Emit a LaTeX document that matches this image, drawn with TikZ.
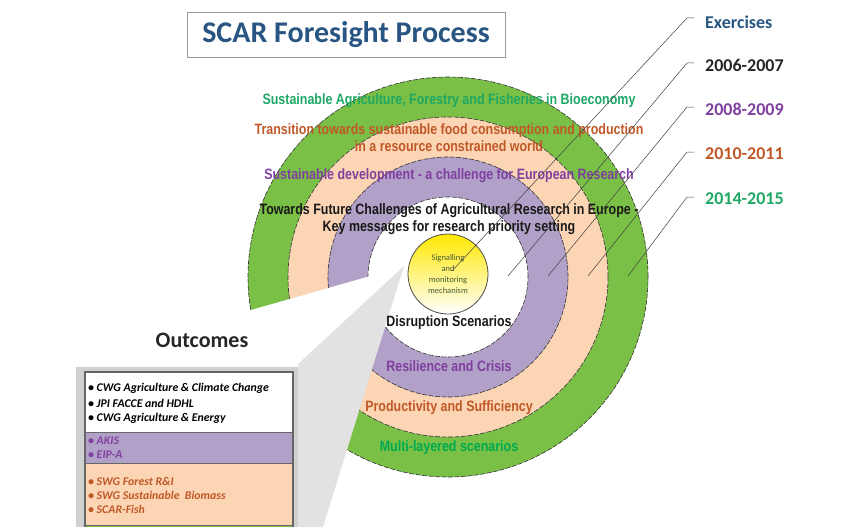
\documentclass[tikz,border=0pt]{standalone}
\usepackage{fontspec}
\setmainfont{Carlito}
\newfontfamily\narrowfont[FakeStretch=0.83]{Liberation Sans}

\definecolor{ringgreen}{RGB}{122,192,70}
\definecolor{ringpeach}{RGB}{252,213,180}
\definecolor{ringpurple}{RGB}{177,160,199}
\definecolor{txtgreen}{RGB}{30,168,100}
\definecolor{txtbright}{RGB}{0,170,80}
\definecolor{txtorange}{RGB}{192,88,40}
\definecolor{txtpurple}{RGB}{128,64,160}
\definecolor{titleblue}{RGB}{40,85,130}
\definecolor{sigyellow}{RGB}{255,232,0}
\definecolor{sigtext}{RGB}{70,90,50}
\definecolor{wedgegray}{RGB}{226,226,226}
\definecolor{framegray}{RGB}{208,208,208}

\tikzset{
  ring/.style={circle, draw=black!80, dash pattern=on 5pt off 1.5pt, line width=0.6pt, inner sep=0pt},
  ringlabel/.style={align=center, font=\narrowfont\bfseries\fontsize{15}{17}\selectfont},
  yearlabel/.style={anchor=base west, inner sep=0pt, font=\bfseries\fontsize{18}{20}\selectfont},
  outcome/.style={anchor=west, inner sep=0pt, font=\bfseries\itshape\fontsize{11.8}{13}\selectfont},
  leader/.style={draw=black!75, line width=0.5pt}
}

\begin{document}
\begin{tikzpicture}[x=1pt, y=-1pt]
    \useasboundingbox (0,0) rectangle (864,527);

    % Rings of the foresight exercises
    \node[ring, fill=ringgreen, minimum size=400pt] (green) at (448,277) {};
    \node[ring, fill=ringpeach, minimum size=320pt] (peach) at (448,277) {};
    \node[ring, fill=ringpurple, minimum size=240pt] (purple) at (448,277) {};
    \node[ring, fill=white, minimum size=160pt] (inner) at (448,277) {};

    % Callout towards the outcomes
    \fill[white] (402,267) -- (230,316) -- (230,527) -- (323,527) -- cycle;
    \fill[wedgegray] (404,266) -- (298,364) -- (298,527) -- (323,527) -- cycle;

    % Signalling circle
    \node[circle, draw=black!70, line width=0.8pt, minimum size=80pt, inner sep=0pt,
          top color=sigyellow, middle color=sigyellow!35, bottom color=white,
          align=center, text=sigtext, font=\fontsize{8.5}{11}\selectfont]
          (signal) at (448,274) {Signalling\\and\\monitoring\\mechanism};

    % Ring labels
    \node[ringlabel, text=txtgreen] (bio) at (449,101) {Sustainable Agriculture, Forestry and Fisheries in Bioeconomy};
    \node[ringlabel, text=txtorange] (transition) at (449,138) {Transition towards sustainable food consumption and production\\in a resource constrained world};
    \node[ringlabel, text=txtpurple] (sustdev) at (449,176) {Sustainable development - a challenge for European Research};
    \node[ringlabel, text=black!90] (towards) at (449,219) {Towards Future Challenges of Agricultural Research in Europe -\\Key messages for research priority setting};
    \node[ringlabel, text=black!90] (disruption) at (449,323) {Disruption Scenarios};
    \node[ringlabel, text=txtpurple] (resilience) at (449,366) {Resilience and Crisis};
    \node[ringlabel, text=txtorange] (productivity) at (449,408) {Productivity and Sufficiency};
    \node[ringlabel, text=txtbright] (multi) at (449,448) {Multi-layered scenarios};

    % Title
    \node[draw=black!40, line width=0.8pt, minimum width=318pt, minimum height=45pt,
          text=titleblue, font=\bfseries\fontsize{30}{32}\selectfont]
          (title) at (346,34.5) {SCAR Foresight Process};

    % Outcomes box
    \node[font=\bfseries\fontsize{22}{24}\selectfont, text=black!85] (outcomes) at (202,340) {Outcomes};
    \fill[framegray] (76,367) rectangle (298,527);
    \fill[white] (85,372) rectangle (293,432);
    \fill[ringpurple] (85,432) rectangle (293,463);
    \fill[ringpeach] (85,463) rectangle (293,525);
    \fill[ringgreen] (85,525) rectangle (293,527);
    \draw[black!60, line width=1.2pt] (85,527) -- (85,372) -- (293,372) -- (293,527);
    \draw[black!60, line width=0.8pt] (85,432) -- (293,432);
    \draw[black!60, line width=0.8pt] (85,463) -- (293,463);
    \draw[black!60, line width=0.8pt] (85,525) -- (293,525);

    \node[outcome] (cwgclim) at (88,388) {• CWG Agriculture \& Climate Change};
    \node[outcome] (jpi) at (88,403) {• JPI FACCE and HDHL};
    \node[outcome] (cwgen) at (88,418) {• CWG Agriculture \& Energy};
    \node[outcome, text=txtpurple] (akis) at (88,441) {• AKIS};
    \node[outcome, text=txtpurple] (eip) at (88,455) {• EIP-A};
    \node[outcome, text=txtorange] (swgforest) at (88,481) {• SWG Forest R\&I};
    \node[outcome, text=txtorange] (swgbio) at (88,495) {• SWG Sustainable\ \ Biomass};
    \node[outcome, text=txtorange] (scarfish) at (88,509) {• SCAR-Fish};

    % Legend of the exercises
    \node[yearlabel, text=titleblue] (lblex) at (705,28.5) {Exercises};
    \node[yearlabel, text=black!85] (lbl06) at (705,71) {2006-2007};
    \node[yearlabel, text=txtpurple] (lbl08) at (705,115) {2008-2009};
    \node[yearlabel, text=txtorange] (lbl10) at (705,159) {2010-2011};
    \node[yearlabel, text=txtgreen] (lbl14) at (705,204) {2014-2015};

    \coordinate (tickex) at (694,18);
    \coordinate (tick06) at (694,63);
    \coordinate (tick08) at (694,107);
    \coordinate (tick10) at (694,152);
    \coordinate (tick14) at (694,197);
    \coordinate (tipex) at (452,271);
    \coordinate (tip06) at (508,276);
    \coordinate (tip08) at (548,276);
    \coordinate (tip10) at (588,276);
    \coordinate (tip14) at (628,276);

    \draw[leader] (tickex) -- ++(-7,0) -- (tipex);
    \draw[leader] (tick06) -- ++(-7,0) -- (tip06);
    \draw[leader] (tick08) -- ++(-7,0) -- (tip08);
    \draw[leader] (tick10) -- ++(-7,0) -- (tip10);
    \draw[leader] (tick14) -- ++(-7,0) -- (tip14);
\end{tikzpicture}
\end{document}
